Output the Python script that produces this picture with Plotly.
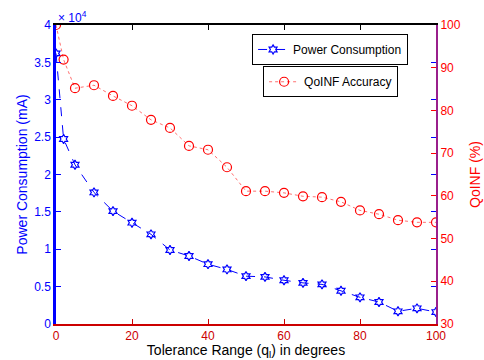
import plotly.graph_objects as go

# Tolerance range (degrees)
tolerance = [0, 2, 5, 10, 15, 20, 25, 30, 35, 40, 45, 50, 55, 60, 65, 70, 75, 80, 85, 90, 95, 100]
# Power consumption (mA), plotted in raw units; the axis shows ×10^4
power = [36200, 24750, 21300, 17600, 15100, 13550, 12000, 9900, 9100, 8000, 7300,
         6400, 6300, 5850, 5500, 5300, 4450, 3570, 2940, 1700, 2100, 1600]
# QoINF accuracy (%)
accuracy = [100.0, 91.9, 85.2, 85.9, 83.4, 81.1, 77.8, 75.9, 71.7, 70.8, 66.7,
            61.1, 61.1, 60.7, 59.9, 59.7, 58.6, 56.6, 55.7, 54.3, 53.8, 53.8]

left_ticks = [0, 5000, 10000, 15000, 20000, 25000, 30000, 35000, 40000]
left_labels = ["0", "0.5", "1", "1.5", "2", "2.5", "3", "3.5", "4"]
right_ticks = [30, 40, 50, 60, 70, 80, 90, 100]
x_ticks = [0, 20, 40, 60, 80, 100]

BLUE = "#0000ff"
RED = "#ff0000"
FONT = "Liberation Sans, Arial, sans-serif"

fig = go.Figure()

fig.add_trace(go.Scatter(
    x=tolerance, y=power, name="Power Consumption", mode="lines+markers",
    line=dict(color=BLUE, width=1, dash="dash"),
    marker=dict(symbol="hexagram-open", size=7, color=BLUE, line=dict(width=1.2, color=BLUE)),
    yaxis="y", legend="legend",
))
fig.add_trace(go.Scatter(
    x=tolerance, y=accuracy, name="QoINF Accuracy", mode="lines+markers",
    line=dict(color="#ff7070", width=1, dash="dot"),
    marker=dict(symbol="circle-open", size=9, color=RED, line=dict(width=1.2, color=RED)),
    yaxis="y2", xaxis="x", legend="legend2",
))
# empty traces that bring up the top axis and the blue right-hand ticks
fig.add_trace(go.Scatter(x=[None], y=[None], xaxis="x2", yaxis="y",
                         showlegend=False, hoverinfo="skip"))
fig.add_trace(go.Scatter(x=[None], y=[None], xaxis="x", yaxis="y3",
                         showlegend=False, hoverinfo="skip"))

fig.update_layout(
    width=484, height=360,
    margin=dict(l=56, r=48, t=25, b=36),
    paper_bgcolor="white", plot_bgcolor="white",
    font=dict(family=FONT, size=12, color="black"),
    showlegend=True,
    xaxis=dict(
        range=[0, 100], tickvals=x_ticks, ticks="inside", ticklen=5,
        tickcolor="#cc0000", showline=True, linecolor="#cc0000", linewidth=2,
        showgrid=False, zeroline=False, automargin=False,
        tickfont=dict(color="#cc0000", size=12),
        title=dict(text="Tolerance Range (q<sub>l</sub>) in degrees",
                   font=dict(size=14, color="black"), standoff=2),
    ),
    xaxis2=dict(
        range=[0, 100], tickvals=x_ticks, overlaying="x", side="top",
        ticks="inside", ticklen=5, tickcolor="black", showline=True,
        linecolor="black", linewidth=1.5, showticklabels=False,
        showgrid=False, zeroline=False, automargin=False,
    ),
    yaxis=dict(
        range=[0, 40000], tickvals=left_ticks, ticktext=left_labels,
        ticks="inside", ticklen=5, tickcolor=BLUE, showline=True,
        linecolor=BLUE, linewidth=2.5, showgrid=False, zeroline=False,
        automargin=False,
        tickfont=dict(color=BLUE, size=12),
        title=dict(text="Power Consumption (mA)", font=dict(size=14, color=BLUE), standoff=4),
    ),
    yaxis3=dict(
        range=[0, 40000], tickvals=left_ticks, overlaying="y", side="right",
        ticks="inside", ticklen=5, tickcolor=BLUE, showline=False,
        showticklabels=False, showgrid=False, zeroline=False, automargin=False,
    ),
    yaxis2=dict(
        range=[30, 100], tickvals=right_ticks, overlaying="y", side="right",
        ticks="inside", ticklen=5, tickcolor=RED, showline=True,
        linecolor="#9a1f8c", linewidth=2, showgrid=False, zeroline=False,
        automargin=False,
        tickfont=dict(color=RED, size=12),
        title=dict(text="QoINF (%)", font=dict(size=14, color=RED), standoff=10),
    ),
    legend=dict(
        x=0.516, y=0.97, xanchor="left", yanchor="top",
        bordercolor="black", borderwidth=1, bgcolor="white",
        font=dict(size=12, color="black"), itemwidth=30,
    ),
    legend2=dict(
        x=0.545, y=0.862, xanchor="left", yanchor="top",
        bordercolor="black", borderwidth=1, bgcolor="white",
        font=dict(size=12, color="black"), itemwidth=30,
    ),
    annotations=[dict(
        text="× 10<sup>4</sup>", xref="paper", yref="paper", x=0.0, y=1.0,
        xanchor="left", yanchor="bottom", showarrow=False, yshift=-2,
        font=dict(color=BLUE, size=12),
    )],
)

fig.write_html("out.html")
